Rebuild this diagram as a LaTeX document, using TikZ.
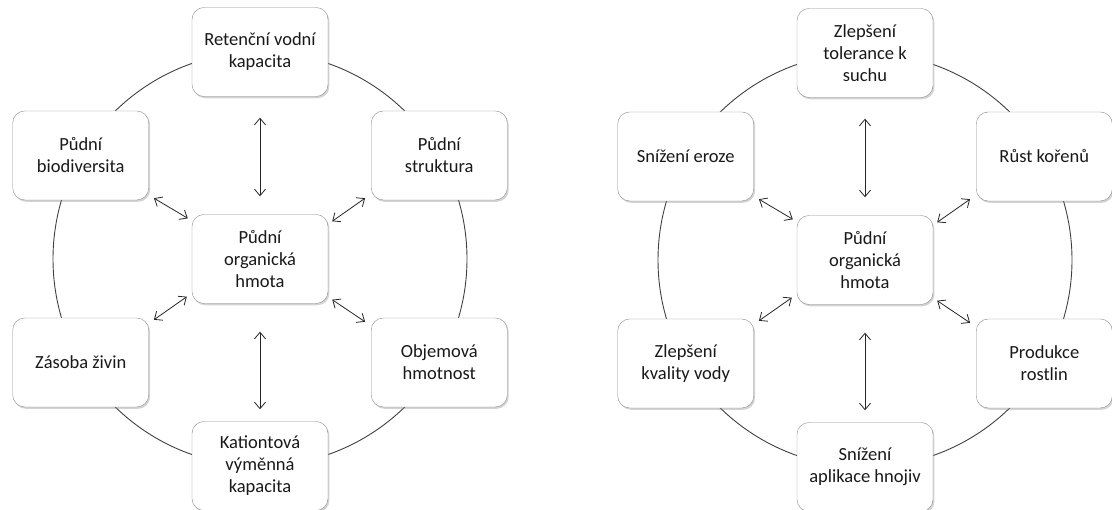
\documentclass[tikz,border=0pt]{standalone}
\usepackage{fontspec}
\setmainfont{Carlito}
\usetikzlibrary{arrows.meta,shadows}
\tikzset{
  box/.style={draw=black!45, fill=white, rounded corners=12pt, minimum width=136pt, minimum height=89pt,
    inner sep=2pt, align=center, text=black!90, font=\fontsize{18.5}{22}\selectfont,
    drop shadow={shadow xshift=1.4pt, shadow yshift=-1.8pt, opacity=0.35}},
  ring/.style={draw=black!75, line width=0.9pt},
  link/.style={<->, >={Straight Barb[length=6.5pt,width=11pt]}, line width=0.8pt, draw=black!85}
}
\begin{document}
\begin{tikzpicture}[x=1pt, y=1pt]
\useasboundingbox (0,0) rectangle (1112,510);
% left cycle
\draw[ring] (260,251) circle (207pt);
\node[box] (lc) at (260,251) {Půdní\\organická\\hmota};
\foreach \a/\n/\lab in {90/1/{Retenční vodní\\kapacita}, 30/2/{Půdní\\struktura}, -30/3/{Objemová\\hmotnost},
  -90/4/{Kationtová\\výměnná\\kapacita}, -150/5/{Zásoba živin}, 150/6/{Půdní\\biodiversita}} {
  \node[box] (l\n) at ([shift={(\a:207)}]260,251) {\lab};
}
% right cycle
\draw[ring] (865,250) circle (207pt);
\node[box] (rc) at (865,250) {Půdní\\organická\\hmota};
\foreach \a/\n/\lab in {90/1/{Zlepšení\\tolerance k\\suchu}, 30/2/{Růst kořenů}, -30/3/{Produkce\\rostlin},
  -90/4/{Snížení\\aplikace hnojiv}, -150/5/{Zlepšení\\kvality vody}, 150/6/{Snížení eroze}} {
  \node[box] (r\n) at ([shift={(\a:207)}]865,250) {\lab};
}
% links to the centre
\foreach \p in {l,r} {
  \draw[link] ([yshift=-21pt]\p1.south) -- ([yshift=18pt]\p c.north);
  \draw[link] ([yshift=-28pt]\p c.south) -- ([yshift=12pt]\p4.north);
  \draw[link] ([shift={(5pt,2pt)}]\p6.south east) -- ([shift={(-4pt,-4pt)}]\p c.north west);
  \draw[link] ([shift={(-6pt,2pt)}]\p2.south west) -- ([shift={(4pt,-7pt)}]\p c.north east);
  \draw[link] ([shift={(-5pt,7pt)}]\p c.south west) -- ([shift={(5pt,-2pt)}]\p5.north east);
  \draw[link] ([shift={(4pt,4pt)}]\p c.south east) -- ([shift={(-6pt,-4pt)}]\p3.north west);
}
\end{tikzpicture}
\end{document}
